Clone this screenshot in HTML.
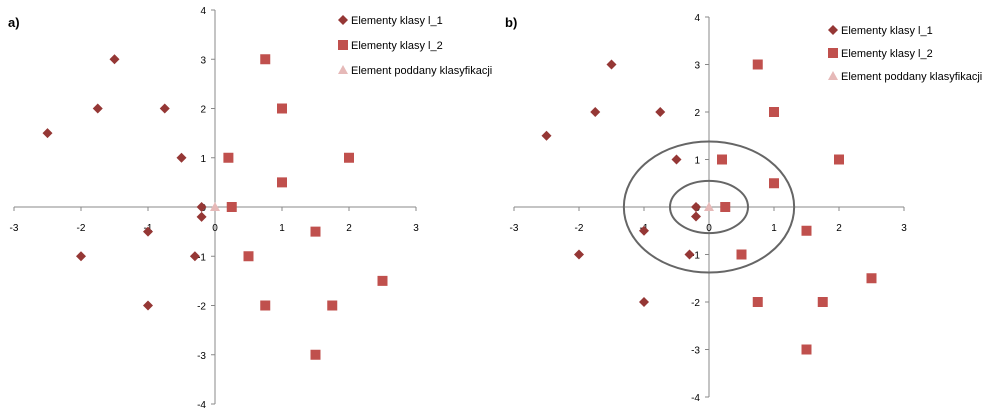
<!DOCTYPE html>
<html><head><meta charset="utf-8"><style>
body{margin:0;background:#fff;width:998px;height:410px;overflow:hidden}
svg{font-family:"Liberation Sans",sans-serif}
</style></head><body>
<svg id="s" width="998" height="410">
<text x="8" y="27" font-size="13" font-weight="bold">a)</text>
<text x="505" y="27" font-size="13" font-weight="bold">b)</text>
</svg>
<script>
const xTicks=[-3,-2,-1,0,1,2,3];
const yTicks=[-4,-3,-2,-1,0,1,2,3,4];
const class1X=[-2.5,-1.5,-1.75,-0.75,-0.5,-0.2,-0.2,-1,-2,-0.3,-1];
const class1Y=[1.5,3,2,2,1,0,-0.2,-0.5,-1,-1,-2];
const class2X=[0.75,1,0.2,2,1,0.25,1.5,0.5,2.5,0.75,1.75,1.5];
const class2Y=[3,2,1,1,0.5,0,-0.5,-1,-1.5,-2,-2,-3];
const testX=[0];
const testY=[0];
const legendLabels=["Elementy klasy l_1","Elementy klasy l_2","Element poddany klasyfikacji"];
const circleRadiiX=[0.6,1.31];
const circleRadiiY=[0.55,1.38];
const NS="http://www.w3.org/2000/svg";
const s=document.getElementById('s');
function el(t,a,p){const e=document.createElementNS(NS,t);for(const k in a)e.setAttribute(k,a[k]);(p||s).appendChild(e);return e;}
function chart(id,x0,x1,y0,y1,leg,circles){
  const g=el('g',{});
  
  
  const sx=v=>x0+(v+3)/6*(x1-x0);
  const sy=v=>y1-(v+4)/8*(y1-y0);
  const ax=el('line',{x1:x0,x2:x1,y1:sy(0),y2:sy(0),stroke:'#888','stroke-width':1},g);
  
  const ay=el('line',{x1:sx(0),x2:sx(0),y1:y0,y2:y1,stroke:'#888','stroke-width':1},g);
  
  xTicks.forEach(v=>{
    el('line',{x1:sx(v),x2:sx(v),y1:sy(0),y2:sy(0)+4,stroke:'#888'},g);
    const t=el('text',{x:sx(v),y:sy(0)+24,'font-size':10,'text-anchor':'middle',fill:'#000'},g);
    t.textContent=v;
    
  });
  yTicks.forEach(v=>{
    el('line',{x1:sx(0)-4,x2:sx(0),y1:sy(v),y2:sy(v),stroke:'#888'},g);
    const t=el('text',{x:sx(0)-9,y:sy(v)+4,'font-size':10,'text-anchor':'end',fill:'#000'},g);
    t.textContent=v;
    
  });
  if(circles){circleRadiiX.forEach((r,i)=>{
    const c=el('ellipse',{cx:sx(0),cy:sy(0),rx:r*(x1-x0)/6,ry:circleRadiiY[i]*(y1-y0)/8,fill:'none',stroke:'#666','stroke-width':2},g);
    
  });}
  const dia=(x,y,p)=>el('polygon',{points:`${x},${y-5} ${x+5},${y} ${x},${y+5} ${x-5},${y}`,fill:'#953735'},p);
  const sq=(x,y,p)=>el('rect',{x:x-5,y:y-5,width:10,height:10,fill:'#C0504D'},p);
  const tri=(x,y,p)=>el('polygon',{points:`${x},${y-5} ${x+5},${y+4} ${x-5},${y+4}`,fill:'#E6B9B8'},p);
  class1X.forEach((v,i)=>{const m=dia(sx(v),sy(class1Y[i]),g);});
  class2X.forEach((v,i)=>{const m=sq(sx(v),sy(class2Y[i]),g);});
  testX.forEach((v,i)=>{const m=tri(sx(v),sy(testY[i]),g);});
  const fns=[dia,sq,tri];
  legendLabels.forEach((l,i)=>{
    const y=leg[1]+i*leg[2];
    const m=fns[i](leg[0],y,g);
    
    const t=el('text',{x:leg[0]+8,y:y+4,'font-size':11,fill:'#000'},g);
    t.textContent=l;
    
  });
}
chart('chart-a',14,416,10,404,[343,20,25],false);
chart('chart-b',514,904,17,397,[833,30,23],true);
</script>
</body></html>
